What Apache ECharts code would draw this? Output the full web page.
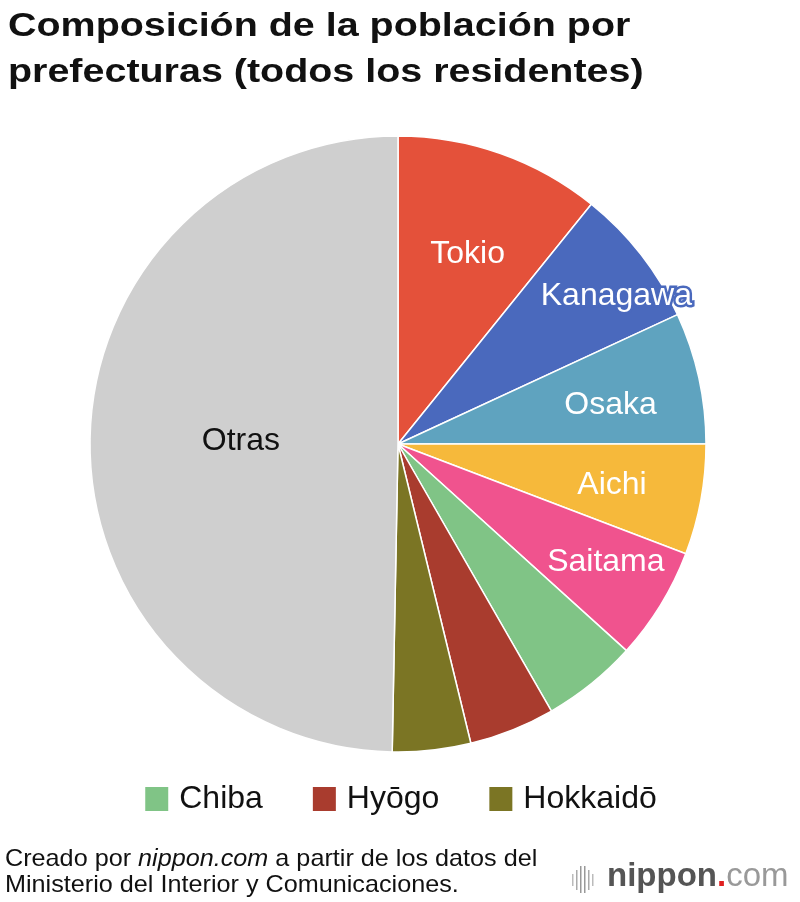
<!DOCTYPE html>
<html><head><meta charset="utf-8">
<script src="https://cdn.jsdelivr.net/npm/echarts@6/dist/echarts.min.js"></script>
<style>html,body{margin:0;padding:0;background:#fff}#c{width:800px;height:902px}</style>
</head><body><div id="c"></div>
<script>
var categories = ['Tokio','Kanagawa','Osaka','Aichi','Saitama','Chiba','Hyōgo','Hokkaidō','Otras'];
var values = [10.8, 7.3, 6.9, 5.8, 5.9, 5.0, 4.5, 4.1, 49.7];
var legendItems = ['Chiba','Hyōgo','Hokkaidō'];
var labeled = ['Tokio','Kanagawa','Osaka','Aichi','Saitama','Otras'];

var colors = ['#E4513A','#4A69BD','#5FA3BF','#F6B93B','#F0538E','#80C486','#A93C2E','#7B7524','#CFCFCF'];
var labelRadius = [0.66, 0.85, 0.70, 0.70, 0.78, 0.5, 0.5, 0.5, 0.51];
var labelShift = [[2,2],[12,13],[2,8],[2,2],[3,-7],[0,0],[0,0],[0,0],[0,-1]];
var CX = 398, CY = 444, R = 308;
var FONT = '"Liberation Sans", Arial, Helvetica, sans-serif';

var total = values.reduce(function(a,b){return a+b;},0);
var chart = echarts.init(document.getElementById('c'), null, {renderer:'canvas'});

var data = categories.map(function(c,i){
  var isLab = labeled.indexOf(c) >= 0;
  return {
    name: c, value: values[i],
    itemStyle: {color: colors[i]},
    label: {
      show: isLab,
      color: c === 'Otras' ? '#111' : '#fff',
      textBorderColor: c === 'Kanagawa' ? colors[i] : 'transparent',
      textBorderWidth: c === 'Kanagawa' ? 5 : 0
    }
  };
});

chart.setOption({
  animation: false,
  graphic: [
    {type:'text', x: 8, y: 4, scaleX: 1.16, style:{text:'Composición de la población por\nprefecturas (todos los residentes)', font:'bold 34px '+FONT, fill:'#111', lineHeight:46}},
    {type:'text', x: 5, y: 846, scaleX: 1.05, style:{
      text:'{n|Creado por }{i|nippon.com}{n| a partir de los datos del}\n{n|Ministerio del Interior y Comunicaciones.}',
      rich:{n:{font:'24px '+FONT, fill:'#111', lineHeight:26}, i:{font:'italic 24px '+FONT, fill:'#111', lineHeight:26}}
    }},
    {type:'group', x: 572, y: 866, children: [
      {type:'rect', shape:{x:0,y:8,width:1.5,height:12}, style:{fill:'#bbb'}},
      {type:'rect', shape:{x:4,y:4,width:1.5,height:20}, style:{fill:'#aaa'}},
      {type:'rect', shape:{x:8,y:0,width:1.5,height:27}, style:{fill:'#999'}},
      {type:'rect', shape:{x:12,y:0,width:1.5,height:27}, style:{fill:'#999'}},
      {type:'rect', shape:{x:16,y:4,width:1.5,height:20}, style:{fill:'#aaa'}},
      {type:'rect', shape:{x:20,y:8,width:1.5,height:12}, style:{fill:'#bbb'}}
    ]},
    {type:'text', x: 607, y: 860, style:{
      text:'{a|nippon}{b|.}{c|com}',
      rich:{a:{font:'bold 33px '+FONT, fill:'#555'}, b:{font:'bold 33px '+FONT, fill:'#E02020'}, c:{font:'33px '+FONT, fill:'#999'}}
    }}
  ],
  legend: {
    data: legendItems,
    top: 783,
    padding: 0,
    left: 'center',
    itemWidth: 25, itemHeight: 26, itemGap: 48,
    icon: 'rect',
    textStyle: {fontSize: 32, fontFamily: FONT, color:'#111', padding:[0,0,0,5]}
  },
  series: [{
    type: 'pie',
    center: [CX, CY],
    radius: [0, R],
    startAngle: 90,
    clockwise: true,
    avoidLabelOverlap: false,
    itemStyle: {borderColor:'#fff', borderWidth: 1.5},
    emphasis: {disabled: true},
    label: {position:'inside', fontSize: 32, fontFamily: FONT},
    labelLine: {show:false},
    labelLayout: function(p){
      var i = p.dataIndex, cum = 0;
      for (var k=0;k<i;k++) cum += values[k];
      var mid = (cum + values[i]/2) / total * 2 * Math.PI;
      var rr = R * labelRadius[i];
      return {x: CX + rr*Math.sin(mid) + labelShift[i][0], y: CY - rr*Math.cos(mid) + labelShift[i][1], align:'center', verticalAlign:'middle'};
    },
    data: data
  }]
});
</script></body></html>
